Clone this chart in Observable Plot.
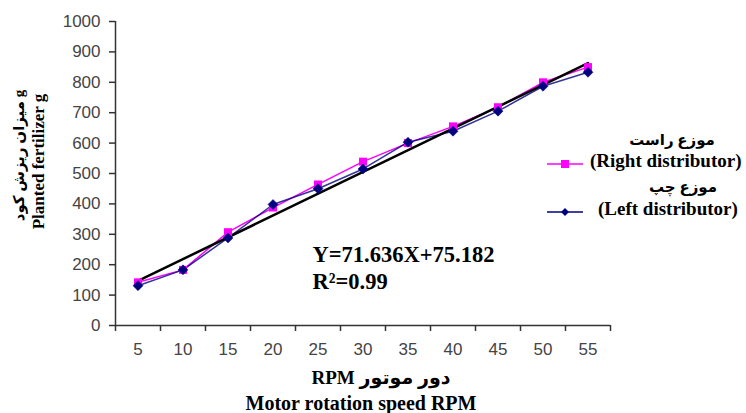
<!DOCTYPE html>
<html>
<head>
<meta charset="utf-8">
<script src="https://cdn.jsdelivr.net/npm/d3@7"></script>
<script src="https://cdn.jsdelivr.net/npm/@observablehq/plot@0.6"></script>
<style>
  html, body { margin: 0; padding: 0; background: #fff; }
  #chart { width: 746px; height: 413px; }
</style>
</head>
<body>
<div id="chart"></div>
<script>
// ---- data ----
const xLabels = ["5", "10", "15", "20", "25", "30", "35", "40", "45", "50", "55"];
const rightValues = [142, 183, 307, 388, 464, 539, 600, 655, 718, 800, 850];
const leftValues  = [131, 183, 288, 398, 450, 515, 603, 639, 705, 787, 833];
const yTicks = [0, 100, 200, 300, 400, 500, 600, 700, 800, 900, 1000];
const trendSlope = 71.636;
const trendIntercept = 75.182;
const rSquared = "0.99";
const seriesNames = ["Right distributor", "Left distributor"];
const seriesPersian = ["موزع راست", "موزع چپ"];
const seriesColors = ["#ff00ff", "#000080"];

const rows = xLabels.map((lab, i) => ({idx: i + 1, label: lab, right: rightValues[i], left: leftValues[i]}));
const trendRows = [1, xLabels.length].map(i => ({idx: i, y: trendSlope * i + trendIntercept}));

const serif = "'Liberation Serif', 'Times New Roman', 'DejaVu Sans', serif";
const sans = "'Liberation Sans', Arial, sans-serif";

const chart = Plot.plot({
  width: 746,
  height: 413,
  marginLeft: 115,
  marginRight: 136,
  marginTop: 21,
  marginBottom: 88,
  style: {fontFamily: sans, background: "#fff", overflow: "visible"},
  x: {type: "linear", domain: [0.5, xLabels.length + 0.5]},
  y: {domain: [0, 1000]},
  marks: [
    Plot.axisY({ticks: yTicks, tickSize: 6, tickPadding: 9, tickFormat: d => String(d), fontSize: 17, stroke: "#333", strokeWidth: 1.5, fill: "#444", label: null}),
    Plot.axisX({ticks: d3.range(0.5, xLabels.length + 1, 1), tickSize: 6, tickFormat: () => "", stroke: "#333", strokeWidth: 1.5, label: null}),
    Plot.axisX({ticks: d3.range(1, xLabels.length + 1), tickSize: 0, tickPadding: 17, tickFormat: d => xLabels[d - 1], fontSize: 17, fill: "#444", label: null}),
    Plot.ruleX([0.5], {stroke: "#333", strokeWidth: 1.5}),
    Plot.ruleY([0], {stroke: "#333", strokeWidth: 1.5}),
    Plot.line(rows, {x: "idx", y: "right", stroke: seriesColors[0], strokeWidth: 1.5}),
    Plot.line(rows, {x: "idx", y: "left", stroke: seriesColors[1], strokeWidth: 1.5, strokeOpacity: 0.8}),
    Plot.line(trendRows, {x: "idx", y: "y", stroke: "#000", strokeWidth: 2.5}),
    Plot.dot(rows, {x: "idx", y: "right", symbol: "square", r: 4.5, fill: seriesColors[0], stroke: "none"}),
    Plot.dot(rows, {x: "idx", y: "left", symbol: "diamond2", r: 4.5, fill: seriesColors[1], stroke: seriesColors[1], strokeWidth: 0.5}),
    // regression annotation
    Plot.text([`Y=${trendSlope}X+${trendIntercept}`], {frameAnchor: "top-left", dx: 197, dy: 233, textAnchor: "start", lineAnchor: "middle", fontSize: 22.5, fontWeight: "bold", fontFamily: serif, fill: "#000"}),
    Plot.text([`R²=${rSquared}`], {frameAnchor: "top-left", dx: 197, dy: 260, textAnchor: "start", lineAnchor: "middle", fontSize: 22.5, fontWeight: "bold", fontFamily: serif, fill: "#000"}),
    // y axis title
    Plot.text(["میزان ریزش کود g"], {frameAnchor: "left", rotate: -90, dx: -96, dy: -18, textAnchor: "middle", lineAnchor: "middle", fontSize: 15, fontWeight: "bold", fontFamily: serif, fill: "#000"}),
    Plot.text(["Planted fertilizer g"], {frameAnchor: "left", rotate: -90, dx: -77, dy: -12, textAnchor: "middle", lineAnchor: "middle", fontSize: 17, fontWeight: "bold", fontFamily: serif, fill: "#000"}),
    // x axis title
    Plot.text(["RPM دور موتور"], {frameAnchor: "bottom", dx: 18, dy: 52, textAnchor: "middle", lineAnchor: "middle", fontSize: 19, fontWeight: "bold", fontFamily: serif, fill: "#000"}),
    Plot.text(["Motor rotation speed RPM"], {frameAnchor: "bottom", dx: -2, dy: 78, textAnchor: "middle", lineAnchor: "middle", fontSize: 20, fontWeight: "bold", fontFamily: serif, fill: "#000"})
  ]
});

// legend drawn into the same svg
const svg = d3.select(chart);
const legend = svg.append("g").attr("font-family", serif).attr("font-weight", "bold").attr("fill", "#000");
const legendRows = [
  {name: seriesNames[0], fa: seriesPersian[0], color: seriesColors[0], symbol: d3.symbolSquare, size: 64, faY: 142, lineY: 164, textX: 590, faX: 672},
  {name: seriesNames[1], fa: seriesPersian[1], color: seriesColors[1], symbol: d3.symbolDiamond2, size: 40, faY: 189, lineY: 212, textX: 598, faX: 683}
];
legendRows.forEach(r => {
  legend.append("text").attr("x", r.faX).attr("y", r.faY).attr("text-anchor", "middle").attr("dominant-baseline", "middle").attr("font-size", 15).text(r.fa);
  legend.append("line").attr("x1", 547).attr("x2", 583).attr("y1", r.lineY).attr("y2", r.lineY).attr("stroke", r.color).attr("stroke-width", 1.5);
  legend.append("path").attr("d", d3.symbol(r.symbol, r.size)()).attr("transform", `translate(565,${r.lineY})`).attr("fill", r.color);
  legend.append("text").attr("x", r.textX).attr("y", r.lineY - 1).attr("text-anchor", "start").attr("dominant-baseline", "middle").attr("font-size", 19).text(`(${r.name})`);
});

document.getElementById("chart").appendChild(chart);
</script>
</body>
</html>
